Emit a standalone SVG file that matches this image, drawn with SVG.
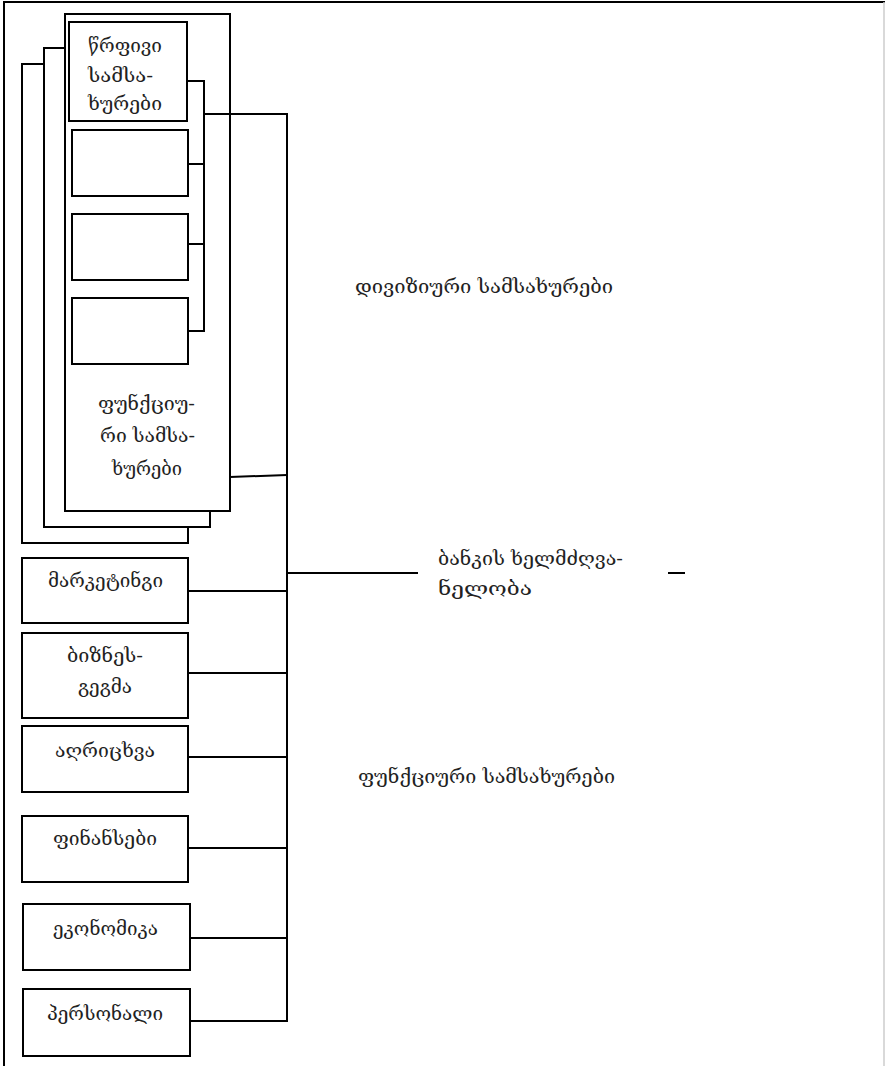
<svg xmlns="http://www.w3.org/2000/svg" width="885" height="1066" viewBox="0 0 885 1066">
<style>
.box{fill:#fff;stroke:#000;stroke-width:2}
.ln{fill:none;stroke:#000;stroke-width:2}
text{font-family:"DejaVu Serif","DejaVu Sans",serif;font-size:18px;fill:#222}
</style>
<rect width="885" height="1066" fill="#fff"/>
<g id="frame">
<path class="ln" d="M4,1066 V2 H885"/>
<line x1="884" y1="2" x2="884" y2="1066" stroke="#ccc" stroke-width="1.5"/>
</g>
<g id="stack3"><rect class="box" x="22" y="64" width="166" height="479"/></g>
<g id="stack2"><rect class="box" x="44" y="48" width="166" height="479"/></g>
<g id="stack1"><rect class="box" x="65" y="14" width="165" height="497"/>
<text x="98" y="410" textLength="97" lengthAdjust="spacingAndGlyphs">ფუნქციუ-</text>
<text x="100" y="442" textLength="95" lengthAdjust="spacingAndGlyphs">რი სამსა-</text>
<text x="112" y="475" textLength="70" lengthAdjust="spacingAndGlyphs">ხურები</text>
</g>
<g id="linear"><rect class="box" x="69" y="22" width="118" height="99"/>
<text x="88" y="52" textLength="74" lengthAdjust="spacingAndGlyphs">წრფივი</text>
<text x="88" y="82" textLength="65" lengthAdjust="spacingAndGlyphs">სამსა-</text>
<text x="88" y="110" textLength="74" lengthAdjust="spacingAndGlyphs">ხურები</text>
</g>
<g id="empty1"><rect class="box" x="72" y="130" width="116" height="66"/></g>
<g id="empty2"><rect class="box" x="72" y="214" width="116" height="66"/></g>
<g id="empty3"><rect class="box" x="72" y="298" width="116" height="66"/></g>
<g id="marketing"><rect class="box" x="22" y="558" width="166" height="65"/>
<text x="48" y="587" textLength="115" lengthAdjust="spacingAndGlyphs">მარკეტინგი</text></g>
<g id="business"><rect class="box" x="22" y="633" width="166" height="85"/>
<text x="67" y="662" textLength="76" lengthAdjust="spacingAndGlyphs">ბიზნეს-</text>
<text x="78" y="693" textLength="54" lengthAdjust="spacingAndGlyphs">გეგმა</text></g>
<g id="accounting"><rect class="box" x="22" y="726" width="166" height="66"/>
<text x="55" y="757" textLength="100" lengthAdjust="spacingAndGlyphs">აღრიცხვა</text></g>
<g id="finance"><rect class="box" x="22" y="816" width="166" height="66"/>
<text x="53" y="845" textLength="104" lengthAdjust="spacingAndGlyphs">ფინანსები</text></g>
<g id="economics"><rect class="box" x="23" y="904" width="167" height="66"/>
<text x="53" y="935" textLength="105" lengthAdjust="spacingAndGlyphs">ეკონომიკა</text></g>
<g id="personnel"><rect class="box" x="23" y="989" width="167" height="67"/>
<text x="47" y="1020" textLength="116" lengthAdjust="spacingAndGlyphs">პერსონალი</text></g>
<g id="connectors">
<path class="ln" d="M187,81 H204 V331 H188"/>
<path class="ln" d="M188,164 H204 M188,244 H204"/>
<path class="ln" d="M204,114 H287 V1021 H190"/>
<path class="ln" d="M230,477 L287,475"/>
<path class="ln" d="M287,573 H418"/>
<path class="ln" d="M668,573 H685"/>
<path class="ln" d="M188,591 H287 M188,673 H287 M188,757 H287 M188,848 H287 M190,938 H287"/>
</g>
<g id="labels">
<text x="355" y="293" textLength="258" lengthAdjust="spacingAndGlyphs">დივიზიური სამსახურები</text>
<text x="438" y="565" textLength="185" lengthAdjust="spacingAndGlyphs">ბანკის ხელმძღვა-</text>
<text x="438" y="595" textLength="94" lengthAdjust="spacingAndGlyphs">ნელობა</text>
<text x="358" y="783" textLength="257" lengthAdjust="spacingAndGlyphs">ფუნქციური სამსახურები</text>
</g>
</svg>
